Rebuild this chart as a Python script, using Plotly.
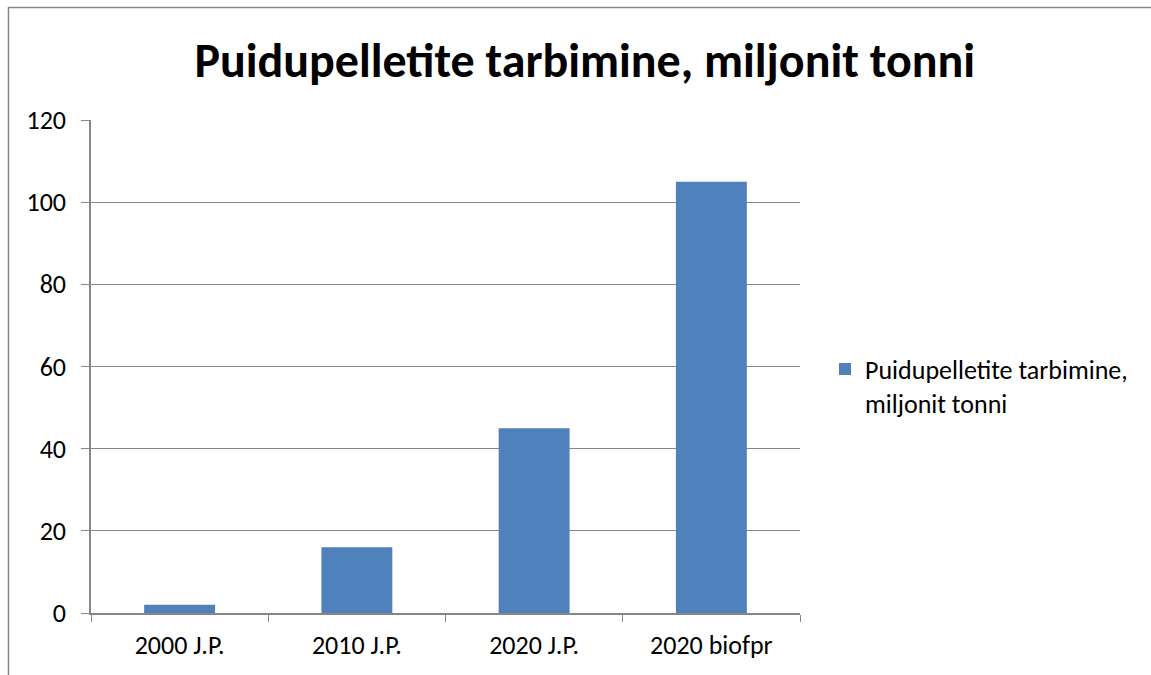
import plotly.graph_objects as go

categories = ["2000 J.P.", "2010 J.P.", "2020 J.P.", "2020 biofpr"]
values = [2, 16, 45, 105]
series_name = "Puidupelletite tarbimine,<br>miljonit tonni"
title_text = "Puidupelletite tarbimine, miljonit tonni"
y_ticks = [0, 20, 40, 60, 80, 100, 120]

W, H = 1151, 675
L, R, T, B = 91, 351, 120, 62
pw, ph = W - L - R, H - T - B

font_family = "Carlito, Calibri, 'Open Sans', sans-serif"

fig = go.Figure()
fig.add_trace(go.Bar(x=categories, y=values, name=series_name,
                     marker=dict(color="#4f81bd", line=dict(width=0)),
                     showlegend=True))

fig.update_layout(
    width=W, height=H,
    margin=dict(l=L, r=R, t=T, b=B),
    paper_bgcolor="white", plot_bgcolor="white",
    font=dict(family=font_family, size=26, color="black"),
    title=dict(text="<b>" + title_text + "</b>", x=0.508, xanchor="center",
               y=1 - 60 / H, yanchor="middle", yref="container",
               font=dict(size=48, color="black", family=font_family)),
    bargap=0.6,
    showlegend=True,
    legend=dict(x=(825 - L) / pw, xanchor="left", y=(613 - 386) / ph, yanchor="middle",
                valign="top", tracegroupgap=0,
                font=dict(size=26, family=font_family), bgcolor="rgba(0,0,0,0)"),
    xaxis=dict(showline=True, linecolor="#868686", linewidth=1.5,
               ticks="outside", ticklen=7, tickcolor="#868686", tickson="boundaries",
               showgrid=False, tickfont=dict(size=26, family=font_family),
               ticklabelstandoff=8),
    yaxis=dict(range=[0, 120], tickvals=y_ticks, showline=True, linecolor="#868686",
               linewidth=1.5, ticks="outside", ticklen=8, tickcolor="#868686",
               showgrid=True, gridcolor="#868686", gridwidth=1, zeroline=False,
               tickfont=dict(size=26, family=font_family), ticklabelstandoff=10),
)

# outer chart border (cropped on right/bottom)
fig.add_shape(type="rect", xref="paper", yref="paper",
              x0=(8.5 - L) / pw, x1=(1200 - L) / pw,
              y0=(613 - 720) / ph, y1=(613 - 7.5) / ph,
              line=dict(color="#868686", width=1.5), fillcolor="rgba(0,0,0,0)", layer="below")

fig.write_html("out.html")
